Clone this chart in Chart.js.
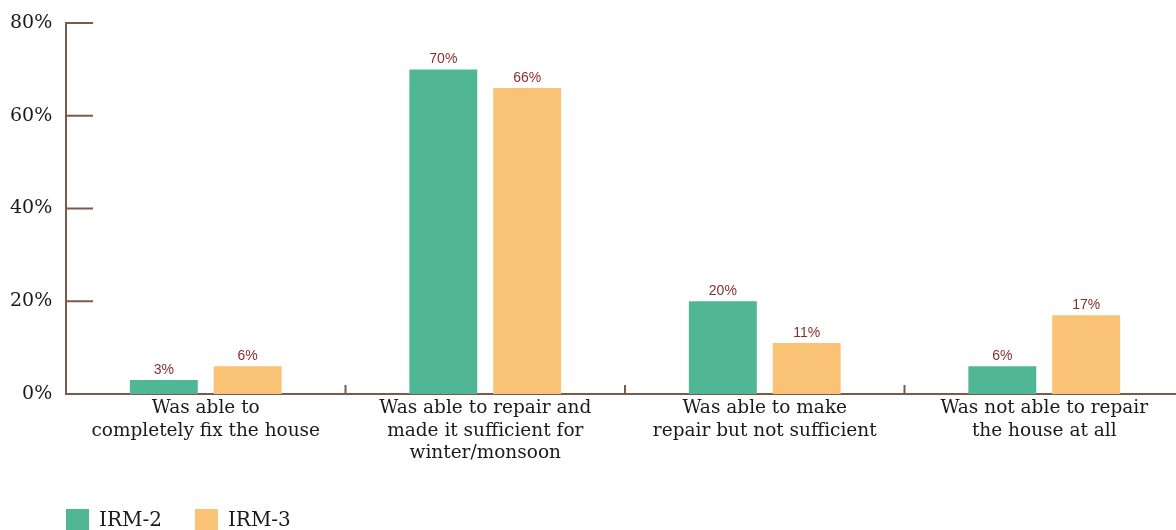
<!DOCTYPE html>
<html>
<head>
<meta charset="utf-8">
<script src="https://cdn.jsdelivr.net/npm/chart.js@4"></script>
<style>
  html, body { margin: 0; padding: 0; background: #fff; overflow: hidden; }
  #wrap { position: absolute; left: 0; top: 0; width: 1184px; height: 542px; }
</style>
</head>
<body>
<div id="wrap"><canvas id="chart1"></canvas></div>
<script>
// data
const categories = [
    ['Was able to', 'completely fix the house'],
    ['Was able to repair and', 'made it sufficient for', 'winter/monsoon'],
    ['Was able to make', 'repair but not sufficient'],
    ['Was not able to repair', 'the house at all']
];
const irm2 = [3, 70, 20, 6];
const irm3 = [6, 66, 11, 17];
const yTicks = [0, 20, 40, 60, 80];

const axisColor = '#7b5a4a';
const serif = '"DejaVu Serif", serif';

// short tick marks drawn inside the plot, like the original
const innerTicks = {
    id: 'innerTicks',
    afterDatasetsDraw(chart) {
        const ctx = chart.ctx;
        const area = chart.chartArea;
        const x = chart.scales.x;
        const y = chart.scales.y;
        ctx.save();
        ctx.strokeStyle = axisColor;
        ctx.lineWidth = 2;
        yTicks.forEach(v => {
            const py = y.getPixelForValue(v);
            ctx.beginPath();
            ctx.moveTo(area.left, py);
            ctx.lineTo(area.left + 27, py);
            ctx.stroke();
        });
        const step = x.getPixelForValue(1) - x.getPixelForValue(0);
        for (let i = 0; i < categories.length; i++) {
            const px = x.getPixelForValue(i) + step / 2;
            ctx.beginPath();
            ctx.moveTo(px, area.bottom);
            ctx.lineTo(px, area.bottom - 9);
            ctx.stroke();
        }
        ctx.restore();
    }
};

// percentage labels above the bars
const valueLabels = {
    id: 'valueLabels',
    afterDatasetsDraw(chart) {
        const ctx = chart.ctx;
        ctx.save();
        ctx.font = '14px "Liberation Sans", Arial, sans-serif';
        ctx.fillStyle = '#8a2e2e';
        ctx.textAlign = 'center';
        ctx.textBaseline = 'bottom';
        chart.data.datasets.forEach((ds, di) => {
            chart.getDatasetMeta(di).data.forEach((bar, i) => {
                ctx.fillText(ds.data[i] + '%', bar.x, bar.y - 3);
            });
        });
        ctx.restore();
    }
};

const ctx = document.querySelector('#chart1').getContext('2d');
const chart = new Chart(ctx, {
    type: 'bar',
    data: {
        labels: categories,
        datasets: [{
            label: 'IRM-2',
            data: irm2,
            backgroundColor: '#51b694',
            categoryPercentage: 0.6,
            barPercentage: 0.81
        }, {
            label: 'IRM-3',
            data: irm3,
            backgroundColor: '#f9c275',
            categoryPercentage: 0.6,
            barPercentage: 0.81
        }]
    },
    options: {
        responsive: true,
        maintainAspectRatio: false,
        animation: false,
        layout: { padding: { top: 23, left: 33, right: 0, bottom: 0 } },
        scales: {
            x: {
                grid: { display: false, drawTicks: false },
                border: { color: axisColor, width: 2 },
                ticks: {
                    color: '#1a1a1a',
                    font: { family: serif, size: 18.5, lineHeight: 1.22 },
                    padding: 3,
                    maxRotation: 0,
                    autoSkip: false
                },
                afterFit: s => { s.height = 82; }
            },
            y: {
                min: 0,
                max: 80,
                grid: { display: false, drawTicks: false },
                border: { color: axisColor, width: 2 },
                afterBuildTicks: s => { s.ticks = yTicks.map(v => ({ value: v })); },
                ticks: {
                    color: '#1a1a1a',
                    font: { family: serif, size: 19 },
                    mirror: true,
                    crossAlign: 'far',
                    padding: -56,
                    callback: v => v + '%'
                },
                afterFit: s => { s.width = 33; }
            }
        },
        plugins: {
            legend: {
                position: 'bottom',
                align: 'start',
                labels: {
                    boxWidth: 23,
                    boxHeight: 23,
                    padding: 33,
                    color: '#1a1a1a',
                    font: { family: serif, size: 20 }
                }
            },
            tooltip: { enabled: false }
        }
    },
    plugins: [innerTicks, valueLabels]
});
</script>
</body>
</html>
